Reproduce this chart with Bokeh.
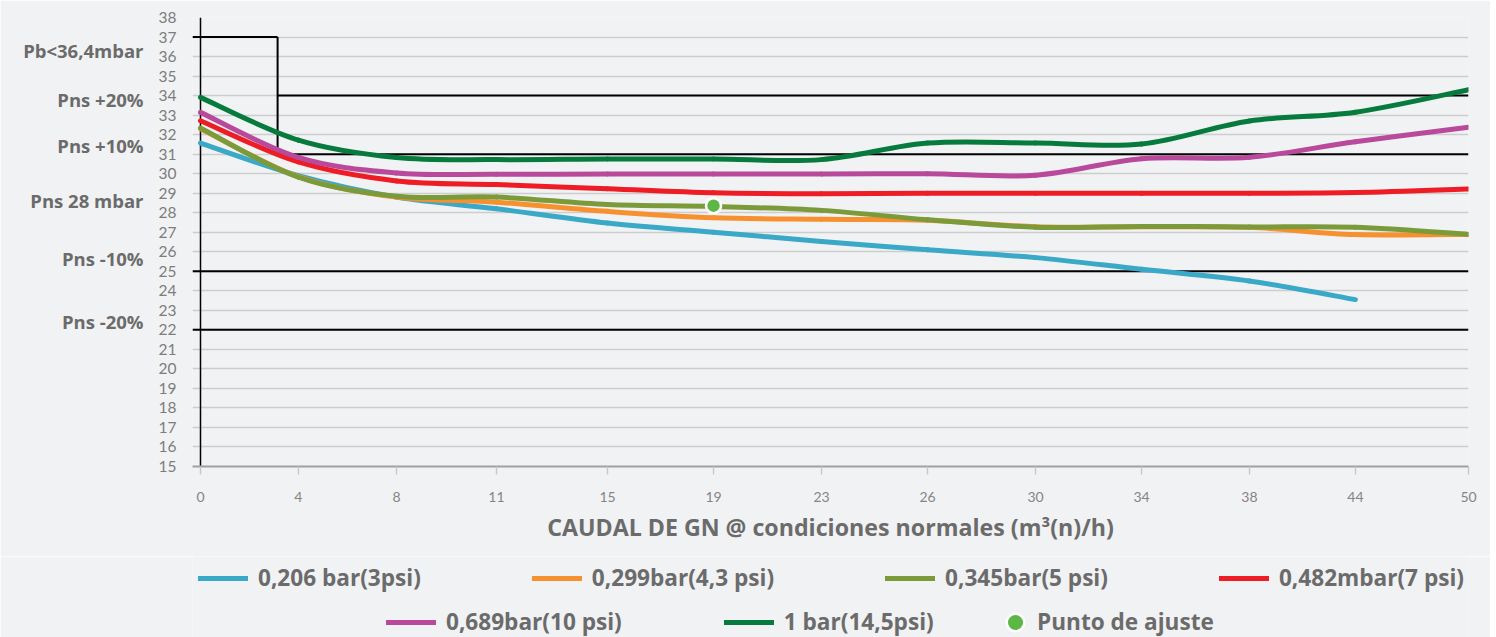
from bokeh.plotting import figure
from bokeh.layouts import column
from bokeh.models import FixedTicker, Legend, LegendItem, Range1d, LinearAxis
from bokeh.embed import file_html
from bokeh.resources import INLINE

# ---------------- data ----------------
flow_labels = ["0", "4", "8", "11", "15", "19", "23", "26", "30", "34", "38", "44", "50"]
flow_pos = [0, 3.86, 7.73, 11.67, 16.05, 20.23, 24.49, 28.67, 32.93, 37.11, 41.36, 45.54, 50]
y_ticks = list(range(15, 39))

series_names = ["0,206 bar(3psi)", "0,299bar(4,3 psi)", "0,345bar(5 psi)",
                "0,482mbar(7 psi)", "0,689bar(10 psi)", "1 bar(14,5psi)"]
s_0206 = [31.57, 29.90, 28.80, 28.20, 27.47, 27.00, 26.53, 26.10, 25.70, 25.10, 24.50, 23.55]
s_0299 = [32.30, 29.85, 28.80, 28.54, 28.07, 27.74, 27.66, 27.62, 27.28, 27.28, 27.25, 26.88, 26.89]
s_0345 = [32.34, 29.82, 28.84, 28.80, 28.42, 28.32, 28.12, 27.64, 27.26, 27.30, 27.27, 27.25, 26.89]
s_0482 = [32.71, 30.60, 29.63, 29.44, 29.23, 29.02, 28.97, 29.00, 29.00, 29.00, 29.00, 29.03, 29.21]
s_0689 = [33.14, 30.83, 30.04, 29.97, 29.98, 29.98, 29.98, 30.00, 29.92, 30.77, 30.84, 31.64, 32.38]
s_1000 = [33.91, 31.72, 30.83, 30.72, 30.75, 30.75, 30.72, 31.57, 31.57, 31.52, 32.70, 33.15, 34.30]
series_values = [s_0206, s_0299, s_0345, s_0482, s_0689, s_1000]
series_colors = ["#3AA8C7", "#F7912F", "#7B9B3B", "#EE1C25", "#B94A9B", "#067B3D"]

fit_label = "Punto de ajuste"
fit_x = 20.23
fit_y = 28.36

limit_x = 3.04          # step of the Pb limit
pb_limit = 37
upper_limits = [34, 31]
lower_limits = [25, 22]

ref_labels = ["Pb<36,4mbar", "Pns +20%", "Pns +10%", "Pns 28 mbar", "Pns -10%", "Pns -20%"]
ref_label_y = [36.32, 33.80, 31.45, 28.63, 25.64, 22.44]

x_title = "CAUDAL DE GN @ condiciones normales (m³(n)/h)"

# ---------------- styles ----------------
BG = "#F1F2F4"
TXT = "#6B6B6B"
BOLD_FONT = "Open Sans"
DOT = "#5DB745"
X0 = -0.3155  # frame left edge (gridlines start a few px left of the axis)
W = 1490

p = figure(frame_width=1276, frame_height=449,
           x_range=Range1d(X0, 50), y_range=Range1d(15, 38),
           output_backend="svg", toolbar_location=None,
           min_border_left=192, min_border_right=22, min_border_top=17, min_border_bottom=90)
p.background_fill_color = BG
p.border_fill_color = BG
p.outline_line_color = None

p.xgrid.visible = False
p.ygrid.ticker = FixedTicker(ticks=y_ticks)
p.ygrid.grid_line_color = "#CDCDCD"
p.ygrid.grid_line_width = 1.4

p.yaxis.ticker = FixedTicker(ticks=y_ticks)
p.yaxis.axis_line_color = None
p.yaxis.major_tick_line_color = None
p.yaxis.minor_tick_line_color = None
p.yaxis.major_label_standoff = 10
p.yaxis.major_label_text_font = "Lato"
p.yaxis.major_label_text_font_size = "15.5px"
p.yaxis.major_label_text_color = "#7D7D7D"

# second left axis carrying the reference pressure labels
ref_axis = LinearAxis(ticker=FixedTicker(ticks=ref_label_y),
                      major_label_overrides={v: t for v, t in zip(ref_label_y, ref_labels)})
ref_axis.axis_line_color = None
ref_axis.major_tick_line_color = None
ref_axis.minor_tick_line_color = None
ref_axis.major_label_standoff = 6
ref_axis.major_label_text_font = BOLD_FONT
ref_axis.major_label_text_font_style = "bold"
ref_axis.major_label_text_font_size = "18.5px"
ref_axis.major_label_text_color = TXT
p.add_layout(ref_axis, "left")

p.xaxis.ticker = FixedTicker(ticks=flow_pos)
p.xaxis.major_label_overrides = {pos: lab for pos, lab in zip(flow_pos, flow_labels)}
p.xaxis.axis_line_color = "#A0A0A0"
p.xaxis.axis_line_width = 2
p.xaxis.major_tick_line_color = "#C8C8C8"
p.xaxis.major_tick_line_width = 1.4
p.xaxis.major_tick_in = 0
p.xaxis.major_tick_out = 8
p.xaxis.minor_tick_line_color = None
p.xaxis.major_label_standoff = 17
p.xaxis.major_label_text_font = "Lato"
p.xaxis.major_label_text_font_size = "14px"
p.xaxis.major_label_text_color = "#858585"
p.xaxis.axis_label = x_title
p.xaxis.axis_label_text_font = BOLD_FONT
p.xaxis.axis_label_text_font_style = "bold"
p.xaxis.axis_label_text_font_size = "23.2px"
p.xaxis.axis_label_text_color = TXT
p.xaxis.axis_label_standoff = 6

# y-axis line and limit lines
p.segment(x0=[0], y0=[15], x1=[0], y1=[38], line_color="black", line_width=1.5)
p.segment(x0=[X0, limit_x], y0=[pb_limit, pb_limit], x1=[limit_x, limit_x],
          y1=[pb_limit, min(upper_limits)], line_color="black", line_width=2)
p.segment(x0=[limit_x] * len(upper_limits), y0=upper_limits, x1=[50] * len(upper_limits),
          y1=upper_limits, line_color="black", line_width=2)
p.segment(x0=[X0] * len(lower_limits), y0=lower_limits, x1=[50] * len(lower_limits),
          y1=lower_limits, line_color="black", line_width=2)


def smooth(xs, ys):
    """Catmull-Rom style Bezier control points (Excel smoothed line)."""
    n = len(xs)
    out = {k: [] for k in ("x0", "y0", "x1", "y1", "cx0", "cy0", "cx1", "cy1")}
    for i in range(n - 1):
        im, ip = max(i - 1, 0), min(i + 2, n - 1)
        out["x0"].append(xs[i]); out["y0"].append(ys[i])
        out["x1"].append(xs[i + 1]); out["y1"].append(ys[i + 1])
        out["cx0"].append(xs[i] + (xs[i + 1] - xs[im]) / 6)
        out["cy0"].append(ys[i] + (ys[i + 1] - ys[im]) / 6)
        out["cx1"].append(xs[i + 1] - (xs[ip] - xs[i]) / 6)
        out["cy1"].append(ys[i + 1] - (ys[ip] - ys[i]) / 6)
    return out


for name, vals, col in zip(series_names, series_values, series_colors):
    xs = flow_pos[:len(vals)]
    p.bezier(line_color=col, line_width=5, line_cap="round", **smooth(xs, vals))

p.scatter(x=[fit_x], y=[fit_y], size=15, fill_color=DOT, line_color="white", line_width=2.5)

# ---------------- legend strip (frame aligned with the chart frame) ----------------
LH = 81
leg = figure(width=W, height=LH, x_range=Range1d(0, 1), y_range=Range1d(0, 1),
             x_axis_location=None, y_axis_location=None, min_border=0,
             output_backend="svg", toolbar_location=None)
leg.background_fill_color = BG
leg.border_fill_color = BG
leg.outline_line_color = None
leg.grid.visible = False

# key renderers: data lies outside the visible range, only their legend keys show
keys = [leg.line(x=[-2, -3], y=[-2, -3], line_color=c, line_width=5, line_cap="round")
        for c in series_colors]
dot_key = leg.scatter(x=[-2], y=[-2], size=15, fill_color=DOT,
                      line_color="white", line_width=2.5)


def make_legend(items, loc, spacing, gw=50, gh=20):
    return Legend(items=items, orientation="horizontal", location=loc, margin=0,
                  padding=0, spacing=spacing, glyph_width=gw, glyph_height=gh, label_standoff=10,
                  border_line_color=None, background_fill_alpha=0,
                  label_text_font=BOLD_FONT, label_text_font_style="bold",
                  label_text_font_size="22.6px", label_text_color=TXT)


items1 = [LegendItem(label=series_names[i], renderers=[keys[i]]) for i in range(4)]
items2 = [LegendItem(label=series_names[i], renderers=[keys[i]]) for i in range(4, 6)]
items3 = [LegendItem(label=fit_label, renderers=[dot_key])]
leg.add_layout(make_legend(items1, (6, 44), 111))
leg.add_layout(make_legend(items2, (194, 0), 102))
dot_leg = make_legend(items3, (801, -6.5), 0, gw=44, gh=44)
dot_leg.label_standoff = 0
leg.add_layout(dot_leg)

open("out.html", "w").write(file_html(column(p, leg, spacing=0), INLINE))
